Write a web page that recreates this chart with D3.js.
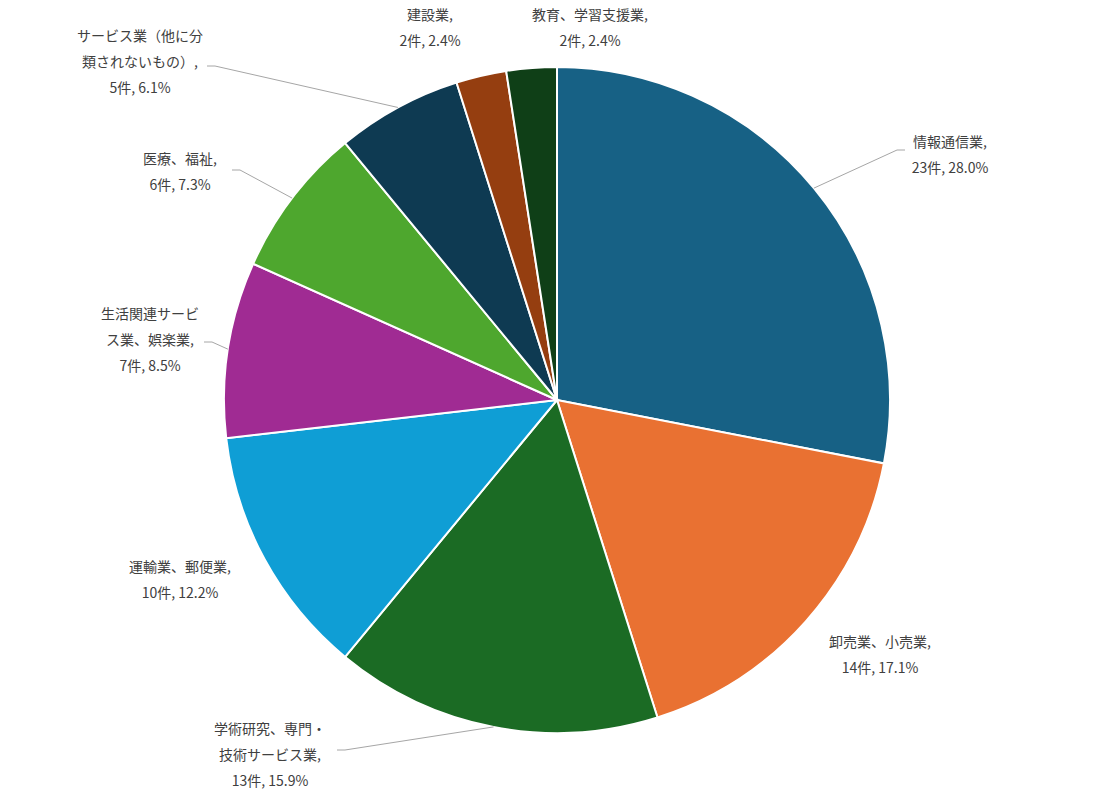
<!DOCTYPE html>
<html lang="ja">
<head>
<meta charset="UTF-8">
<title>業種別件数</title>
<script src="https://cdn.jsdelivr.net/npm/d3@7"></script>
<style>
  body { margin: 0; background: #fff; }
  text { font-family: "Noto Sans CJK JP", "Noto Sans", sans-serif; font-size: 14px; fill: #404040; }
</style>
</head>
<body>
<script>
var categories = ["情報通信業", "卸売業、小売業", "学術研究、専門・\n技術サービス業", "運輸業、郵便業",
    "生活関連サービ\nス業、娯楽業", "医療、福祉", "サービス業（他に分\n類されないもの）", "建設業", "教育、学習支援業"];
var counts = [23, 14, 13, 10, 7, 6, 5, 2, 2];
var colors = ["#176185", "#e97132", "#1b6b24", "#0f9ed5", "#a02b93", "#4ea72e", "#0e3a52", "#953e10", "#0f3f17"];

// label layout: centre of label block, leader elbow (null = no leader)
var labelPos = [[950, 155], [880, 655], [270, 755], [180, 580], [150, 340], [180, 172], [140, 62], [430, 28], [590, 28]];
var elbows = [[897, 150], null, [345, 750], null, [212, 342], [240, 170], [215, 66], null, null];

var width = 1114, height = 799, cx = 557, cy = 400, r = 333;
var total = d3.sum(counts);

var svg = d3.select("body").append("svg").attr("width", width).attr("height", height);
var g = svg.append("g").attr("transform", "translate(" + cx + "," + cy + ")");

var pie = d3.pie().sort(null).value(function(d) { return d; });
var arcs = pie(counts);
var arc = d3.arc().innerRadius(0).outerRadius(r);

g.selectAll("path").data(arcs).enter().append("path")
    .attr("d", arc)
    .attr("fill", function(d, i) { return colors[i]; })
    .attr("stroke", "#fff").attr("stroke-width", 2);

arcs.forEach(function(d, i) {
    var mid = (d.startAngle + d.endAngle) / 2;
    if (elbows[i]) {
        var px = cx + r * Math.sin(mid), py = cy - r * Math.cos(mid);
        var e = elbows[i];
        var dir = e[0] > cx ? 1 : -1;
        svg.append("polyline")
            .attr("points", [[px, py], e, [e[0] + dir * 8, e[1]]].map(function(p) { return p.join(","); }).join(" "))
            .attr("fill", "none").attr("stroke", "#a6a6a6").attr("stroke-width", 1);
    }
    var lines = (categories[i] + ",").split("\n");
    lines.push(counts[i] + "件, " + (counts[i] / total * 100).toFixed(1) + "%");
    var lp = labelPos[i];
    var t = svg.append("text").attr("text-anchor", "middle");
    lines.forEach(function(l, k) {
        t.append("tspan").attr("x", lp[0])
            .attr("y", lp[1] + (k - (lines.length - 1) / 2) * 26 + 5)
            .text(l);
    });
});
</script>
</body>
</html>
